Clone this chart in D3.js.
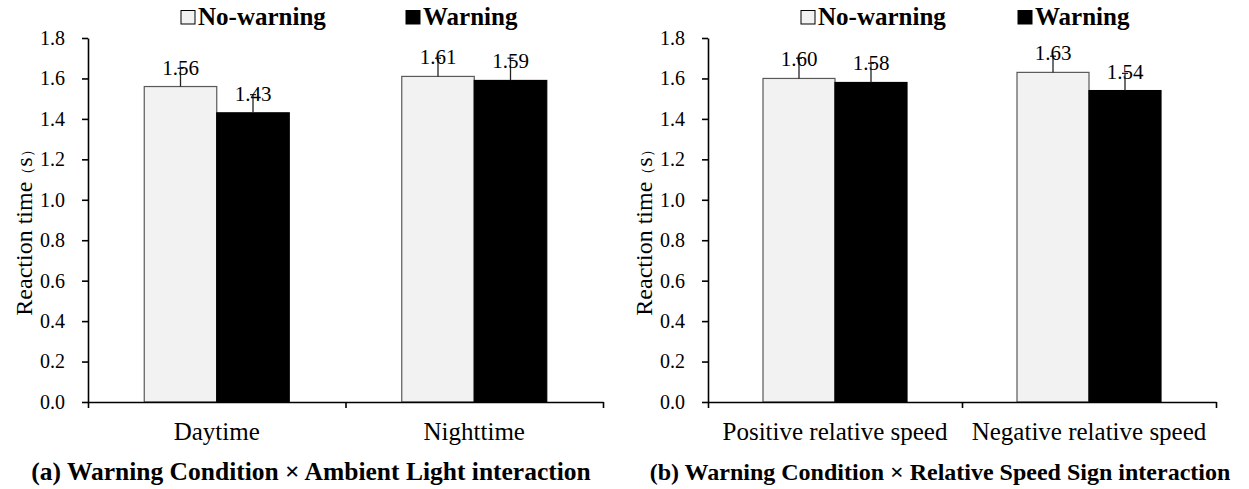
<!DOCTYPE html>
<html>
<head>
<meta charset="utf-8">
<script src="https://cdn.jsdelivr.net/npm/d3@7"></script>
<style>
  html, body { margin: 0; padding: 0; background: #fff; }
  svg { display: block; }
</style>
</head>
<body>
<svg id="chart" width="1249" height="489"></svg>
<script>
// ---- data ----
const seriesNames = ["No-warning", "Warning"];
const categoriesA = ["Daytime", "Nighttime"];
const noWarningA = [1.56, 1.61];
const warningA = [1.43, 1.59];
const errNoWarningA = [0.09, 0.09];
const errWarningA = [0.09, 0.11];
const labelsNoWarningA = ["1.56", "1.61"];
const labelsWarningA = ["1.43", "1.59"];

const categoriesB = ["Positive relative speed", "Negative relative speed"];
const noWarningB = [1.60, 1.63];
const warningB = [1.58, 1.54];
const errNoWarningB = [0.10, 0.08];
const errWarningB = [0.095, 0.085];
const labelsNoWarningB = ["1.60", "1.63"];
const labelsWarningB = ["1.58", "1.54"];

const yTicks = [0, 0.2, 0.4, 0.6, 0.8, 1.0, 1.2, 1.4, 1.6, 1.8];
const yLabelMain = "Reaction time";
const yLabelUnit = ["（", "s", "）"];
const titleA = "(a) Warning Condition \u00D7 Ambient Light interaction";
const titleB = "(b) Warning Condition \u00D7 Relative Speed Sign interaction";

// ---- drawing ----
const FONT = '"Liberation Serif", "Times New Roman", Times, serif';
const svg = d3.select("#chart").style("font-family", FONT);
const fills = ["#f2f2f2", "#000000"];
const strokes = ["#595959", "#000000"];

function panel(opt) {
  const g = svg.append("g");
  const y = d3.scaleLinear().domain([0, 1.8]).range([402, 38]);
  const x = d3.scaleBand().domain(opt.categories).range([opt.x0, opt.x1]);
  const groupW = opt.barW * 2;
  const inner = d3.scaleBand().domain(seriesNames).range([0, groupW]);

  const rows = [];
  opt.categories.forEach((c, i) => {
    rows.push({c, s: seriesNames[0], v: opt.nw[i], e: opt.enw[i], l: opt.lnw[i], k: 0});
    rows.push({c, s: seriesNames[1], v: opt.w[i], e: opt.ew[i], l: opt.lw[i], k: 1});
  });
  const bx = d => x(d.c) + (x.bandwidth() - groupW) / 2 + inner(d.s);
  const cx = d => bx(d) + inner.bandwidth() / 2;

  // bars
  g.selectAll("rect.bar").data(rows).join("rect")
    .attr("class", "bar")
    .attr("x", bx)
    .attr("y", d => y(d.v))
    .attr("width", inner.bandwidth())
    .attr("height", d => y(0) - y(d.v))
    .attr("fill", d => fills[d.k])
    .attr("stroke", d => strokes[d.k])
    .attr("stroke-width", 1.2);

  // error bars
  g.selectAll("line.err").data(rows).join("line")
    .attr("class", "err")
    .attr("x1", cx).attr("x2", cx)
    .attr("y1", d => y(d.v))
    .attr("y2", d => y(d.v + d.e))
    .attr("stroke", "#222").attr("stroke-width", 1.3);
  g.selectAll("line.cap").data(rows).join("line")
    .attr("class", "cap")
    .attr("x1", d => cx(d) - 3).attr("x2", d => cx(d) + 3)
    .attr("y1", d => y(d.v + d.e)).attr("y2", d => y(d.v + d.e))
    .attr("stroke", "#222").attr("stroke-width", 1.3);

  // value labels
  g.selectAll("text.val").data(rows).join("text")
    .attr("class", "val")
    .attr("x", cx)
    .attr("y", d => y(d.v) - 12)
    .attr("text-anchor", "middle")
    .style("font-family", FONT)
    .style("font-size", "21px")
    .text(d => d.l);

  // y axis
  const ya = g.append("g").attr("transform", `translate(${opt.x0},0)`)
    .call(d3.axisLeft(y).tickValues(yTicks).tickFormat(d3.format(".1f"))
      .tickSize(6).tickSizeOuter(0).tickPadding(17));
  ya.attr("font-family", null).attr("font-size", null);
  ya.selectAll("text").style("font-family", FONT).style("font-size", "20px");
  ya.select(".domain").attr("stroke-width", 1.6);
  ya.selectAll(".tick line").attr("stroke-width", 1.6);

  // x axis (ticks at category boundaries)
  const xl = d3.scaleLinear().domain([0, opt.categories.length]).range([opt.x0, opt.x1]);
  const xa = g.append("g").attr("transform", `translate(0,${y(0)})`)
    .call(d3.axisBottom(xl).tickValues(d3.range(opt.categories.length + 1))
      .tickFormat("").tickSize(6).tickSizeOuter(0));
  xa.select(".domain").attr("stroke-width", 1.6);
  xa.selectAll(".tick line").attr("stroke-width", 1.6);

  // category labels
  const xc = g.append("g").attr("transform", `translate(0,${y(0)})`)
    .call(d3.axisBottom(x).tickSize(0).tickPadding(0));
  xc.attr("font-family", null).attr("font-size", null);
  xc.select(".domain").remove();
  xc.selectAll("text").attr("dy", null).attr("y", 38)
    .style("font-family", FONT).style("font-size", "25px");

  // y label
  const yl = g.append("text")
    .attr("transform", `translate(${opt.x0 - 56},${229}) rotate(-90)`)
    .attr("text-anchor", "middle")
    .style("font-family", FONT)
    .style("font-size", "24px");
  yl.append("tspan").text(yLabelMain);
  yl.append("tspan").style("font-size", "15px").text(yLabelUnit[0]);
  yl.append("tspan").text(yLabelUnit[1]);
  yl.append("tspan").style("font-size", "15px").text(yLabelUnit[2]);

  // legend
  seriesNames.forEach((s, i) => {
    const lx = opt.legendX[i];
    g.append("rect").attr("x", lx).attr("y", 10.5).attr("width", 14).attr("height", 13.5)
      .attr("fill", fills[i]).attr("stroke", "#000").attr("stroke-width", 1);
    g.append("text").attr("x", lx + 17).attr("y", 25)
      .style("font-family", FONT).style("font-size", "25px").style("font-weight", "bold")
      .text(s);
  });

  // title
  g.append("text").attr("x", opt.titleX).attr("y", 480)
    .attr("text-anchor", "middle")
    .style("font-family", FONT).style("font-size", opt.titleSize + "px").style("font-weight", "bold")
    .text(opt.title);
}

panel({ categories: categoriesA, nw: noWarningA, w: warningA, enw: errNoWarningA, ew: errWarningA,
  lnw: labelsNoWarningA, lw: labelsWarningA,
  x0: 88, x1: 603, barW: 72.5, legendX: [181, 406], titleX: 311, titleSize: 25.5, title: titleA });
panel({ categories: categoriesB, nw: noWarningB, w: warningB, enw: errNoWarningB, ew: errWarningB,
  lnw: labelsNoWarningB, lw: labelsWarningB,
  x0: 708, x1: 1216, barW: 72, legendX: [801, 1018], titleX: 940, titleSize: 24, title: titleB });
</script>
</body>
</html>
